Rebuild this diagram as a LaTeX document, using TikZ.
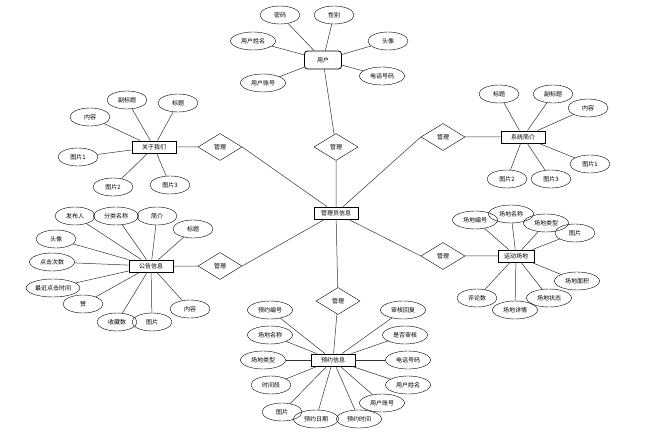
\documentclass[tikz,border=0pt]{standalone}
\usepackage{fontspec}
\setmainfont{Noto Sans CJK SC}
\usetikzlibrary{shapes.geometric}
\tikzset{
    attr/.style = {
        draw, ellipse,
        minimum width=40pt,
        minimum height=18pt,
        inner sep=1pt,
        font=\fontsize{6}{7}\selectfont,
        },
    entity/.style = {
        draw, rectangle,
        line width=0.8pt,
        minimum width=44pt,
        minimum height=12pt,
        inner sep=1pt,
        font=\fontsize{6}{7}\selectfont,
        },
    rel/.style = {
        draw, diamond,
        minimum width=44pt,
        minimum height=27pt,
        inner sep=0pt,
        font=\fontsize{6}{7}\selectfont,
        },
    link/.style = {
        draw=black!80,
        line width=0.5pt,
        },
}
\begin{document}
\begin{tikzpicture}[x=1pt,y=-1pt]
    \useasboundingbox (0,0) rectangle (650,446);

    % centre and relations
    \node[entity] (admin) at (336,213) {管理员信息};
    \node[rel] (mu) at (336,147) {管理};
    \node[rel] (ma) at (220,147) {管理};
    \node[rel] (mn) at (220,266) {管理};
    \node[rel] (mi) at (443,137) {管理};
    \node[rel] (mv) at (443,256) {管理};
    \node[rel] (mb) at (338,301) {管理};

    % user
    \node[entity, rounded corners=3pt, minimum width=37pt, minimum height=18pt] (user) at (323,60) {用户};
    \node[attr] (u1) at (280,15) {密码};
    \node[attr] (u2) at (334,15) {性别};
    \node[attr, minimum width=45pt] (u3) at (253,41) {用户姓名};
    \node[attr] (u4) at (388,41) {头像};
    \node[attr, minimum width=45pt] (u5) at (263,83) {用户账号};
    \node[attr, minimum width=45pt] (u6) at (382,76) {电话号码};

    % about us
    \node[entity] (about) at (154,147) {关于我们};
    \node[attr] (a1) at (90,117) {内容};
    \node[attr] (a2) at (127,100) {副标题};
    \node[attr] (a3) at (178,103) {标题};
    \node[attr] (a4) at (78,157) {图片1};
    \node[attr] (a5) at (113,187) {图片2};
    \node[attr] (a6) at (170,185) {图片3};

    % system intro
    \node[entity] (intro) at (523,137) {系统简介};
    \node[attr] (i1) at (499,94) {标题};
    \node[attr] (i2) at (553,94) {副标题};
    \node[attr] (i3) at (588,108) {内容};
    \node[attr] (i4) at (590,164) {图片1};
    \node[attr] (i5) at (507,179) {图片2};
    \node[attr] (i6) at (551,179) {图片3};

    % notice
    \node[entity] (notice) at (151,266) {公告信息};
    \node[attr] (n1) at (75,216) {发布人};
    \node[attr, minimum width=45pt] (n2) at (116,216) {分类名称};
    \node[attr] (n3) at (157,216) {简介};
    \node[attr] (n4) at (193,229) {标题};
    \node[attr] (n5) at (56,239) {头像};
    \node[attr, minimum width=45pt] (n6) at (52,262) {点击次数};
    \node[attr] (n7) at (53,288) {最近点击时间};
    \node[attr] (n8) at (83,304) {赞};
    \node[attr] (n9) at (117,322) {收藏数};
    \node[attr] (n10) at (152,322) {图片};
    \node[attr] (n11) at (190,309) {内容};

    % venue
    \node[entity, minimum width=36pt] (venue) at (516,256) {运动场地};
    \node[attr, minimum width=45pt] (v1) at (475,220) {场地编号};
    \node[attr, minimum width=45pt] (v2) at (511,214) {场地名称};
    \node[attr, minimum width=45pt] (v3) at (546,223) {场地类型};
    \node[attr] (v4) at (575,233) {图片};
    \node[attr, minimum width=45pt] (v5) at (577,281) {场地面积};
    \node[attr, minimum width=45pt] (v6) at (549,298) {场地状态};
    \node[attr, minimum width=45pt] (v7) at (515,310) {场地详情};
    \node[attr] (v8) at (477,298) {评论数};

    % booking
    \node[entity] (booking) at (333,360) {预约信息};
    \node[attr, minimum width=45pt] (b1) at (270,310) {预约编号};
    \node[attr, minimum width=45pt] (b2) at (270,335) {场地名称};
    \node[attr, minimum width=45pt] (b3) at (263,360) {场地类型};
    \node[attr] (b4) at (271,385) {时间段};
    \node[attr] (b5) at (282,412) {图片};
    \node[attr, minimum width=45pt] (b6) at (316,419) {预约日期};
    \node[attr, minimum width=45pt] (b7) at (359,419) {预约时间};
    \node[attr, minimum width=45pt] (b8) at (382,403) {用户账号};
    \node[attr, minimum width=45pt] (b9) at (408,385) {用户姓名};
    \node[attr, minimum width=45pt] (b10) at (408,360) {电话号码};
    \node[attr, minimum width=45pt] (b11) at (405,335) {是否审核};
    \node[attr, minimum width=45pt] (b12) at (403,310) {审核回复};

    % relation links
    \path[link] (user) -- (mu) (mu) -- (admin);
    \path[link] (about) -- (ma) (ma.east) -- (admin);
    \path[link] (notice) -- (mn) (mn.east) -- (admin);
    \path[link] (intro) -- (mi) (mi.west) -- (admin);
    \path[link] (venue) -- (mv) (mv.west) -- (admin);
    \path[link] (booking) -- (mb) (mb) -- (admin);

    % attribute links
    \foreach \a in {u1,u2,u3,u4,u5,u6} \path[link] (\a) -- (user);
    \foreach \a in {a1,a2,a3,a4,a5,a6} \path[link] (\a) -- (about);
    \foreach \a in {i1,i2,i3,i4,i5,i6} \path[link] (\a) -- (intro);
    \foreach \a in {n1,n2,n3,n4,n5,n6,n7,n8,n9,n10,n11} \path[link] (\a) -- (notice);
    \foreach \a in {v1,v2,v3,v4,v5,v6,v7,v8} \path[link] (\a) -- (venue);
    \foreach \a in {b1,b2,b3,b4,b5,b6,b7,b8,b9,b10,b11,b12} \path[link] (\a) -- (booking);
\end{tikzpicture}
\end{document}
